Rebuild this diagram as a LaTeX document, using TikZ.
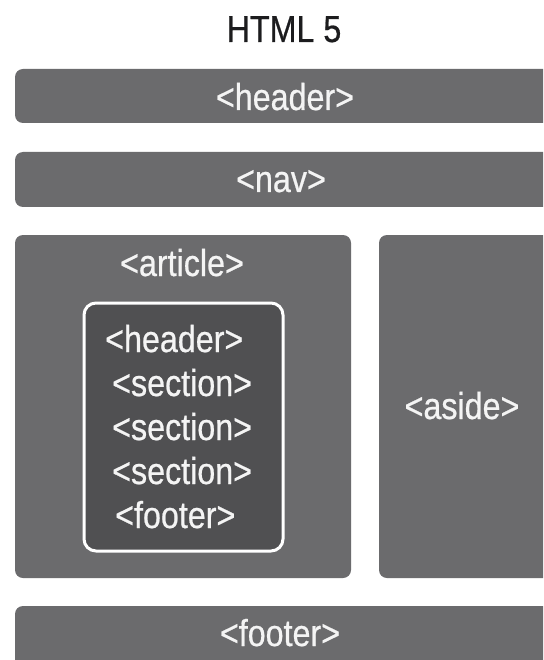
\documentclass[tikz,border=0pt]{standalone}
\usepackage{fontspec}
\setmainfont{Liberation Sans}[FakeStretch=0.86,FakeBold=0.6]
\definecolor{outerg}{HTML}{6B6B6D}
\definecolor{innerg}{HTML}{505052}
\definecolor{txtw}{HTML}{F4F4F4}
\definecolor{ttl}{HTML}{1C1C1E}
\begin{document}
\begin{tikzpicture}[x=1pt,y=-1pt,
  box/.style={fill=outerg,rounded corners=8pt},
  lbl/.style={text=txtw,font=\fontsize{37.5}{40}\selectfont,inner sep=0pt,anchor=base},
  ilbl/.style={lbl,anchor=base west}]
\useasboundingbox (0,0) rectangle (543,660);
\clip (0,0) rectangle (543,660);
\fill[white] (0,0) rectangle (543,660);
\node[lbl,text=ttl] (title) at (284,42) {HTML 5};
\path[box] (15,69) rectangle (570,123);
\node[lbl] (hdr) at (285,110) {<header>};
\path[box] (15,152) rectangle (570,207);
\node[lbl] (nav) at (281,192) {<nav>};
\path[box] (15,235) rectangle (351,578);
\node[lbl] (art) at (182,276) {<article>};
\path[box] (379,235) rectangle (570,578);
\node[lbl] (aside) at (462,419) {<aside>};
\path[box] (15,606) rectangle (570,690);
\node[lbl] (ftr) at (280,646) {<footer>};
\path[fill=innerg,draw=white,line width=3pt,rounded corners=12pt] (84,303) rectangle (283,551);
\node[ilbl] (ih) at (105,352) {<header>};
\node[ilbl] (s1) at (112,396) {<section>};
\node[ilbl] (s2) at (112,440) {<section>};
\node[ilbl] (s3) at (112,484) {<section>};
\node[ilbl] (if) at (115,528) {<footer>};
\end{tikzpicture}
\end{document}
